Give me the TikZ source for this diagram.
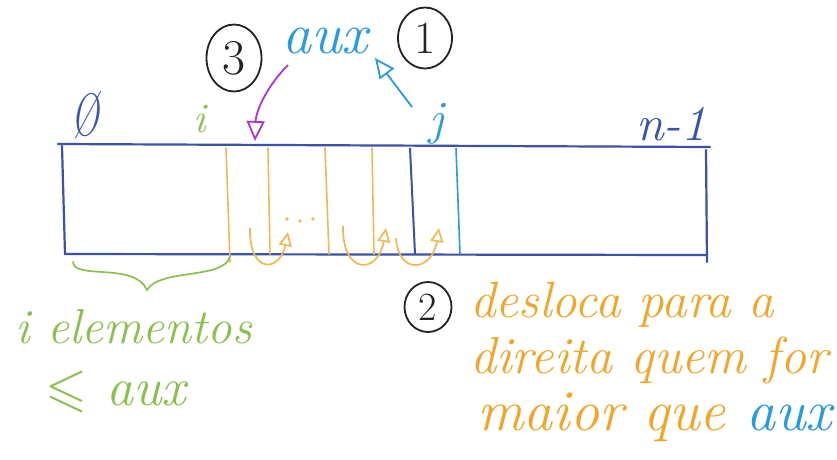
\documentclass[tikz,border=0pt]{standalone}
\usepackage{amssymb}
\usepackage{fontspec}
\usetikzlibrary{arrows.meta,shapes.geometric}
\definecolor{rectblue}{RGB}{58,82,172}
\definecolor{orline}{RGB}{243,184,82}
\definecolor{ortext}{RGB}{243,165,40}
\definecolor{ltblue}{RGB}{38,155,222}
\definecolor{grn}{RGB}{140,192,78}
\definecolor{purp}{RGB}{176,52,212}
\definecolor{ink}{RGB}{35,35,35}
\tikzset{
  hand/.style={inner sep=0pt, font=\itshape\fontsize{#1}{#1}\selectfont},
  circnum/.style={draw=ink, line width=1.8pt, ellipse, inner sep=0pt, text=ink},
  arr/.style={line width=1.8pt, -{Triangle[open,length=20pt,width=18pt,line width=1.8pt]}},
  uarr/.style={orline, line width=1.7pt, -{Triangle[open,length=14pt,width=13pt,line width=1.7pt]}},
  boxline/.style={rectblue, line width=2.2pt, line cap=round},
  cell/.style={orline, line width=1.6pt, line cap=round}
}
\begin{document}
\begin{tikzpicture}[x=1pt,y=-1pt]
\useasboundingbox[fill=white] (0,0) rectangle (837,459);

% array box
\coordinate (TLt) at (58,144);
\coordinate (TL) at (62,146);
\coordinate (TR) at (710,147);
\coordinate (BL) at (65,254);
\coordinate (BR) at (707,255);
\coordinate (RB) at (707,262);
\draw[boxline] (TLt) -- (TR);
\draw[boxline] (TL) -- (BL) -- (BR);
\draw[boxline] (706,150) -- (RB);

% orange cell separators
\coordinate (c1t) at (226,148); \coordinate (c1b) at (230,262);
\coordinate (c2t) at (268,148); \coordinate (c2b) at (270,254);
\coordinate (c3t) at (325,148); \coordinate (c3b) at (329,254);
\coordinate (c4t) at (372,148); \coordinate (c4b) at (374,254);
\draw[cell] (c1t) -- (c1b);
\draw[cell] (c2t) -- (c2b);
\draw[cell] (c3t) -- (c3b);
\draw[cell] (c4t) -- (c4b);
% j cell
\draw[rectblue, line width=2pt] (410,148) -- (415,254);
\draw[ltblue, line width=1.6pt] (456,148) -- (460,254);

% dots
\fill[orline] (287,219) circle (1.8) (300,221) circle (1.8) (313,219) circle (1.8);

% shifting arrows
\coordinate (u1a) at (250,228); \coordinate (u1b) at (288,232);
\coordinate (u2a) at (343,226); \coordinate (u2b) at (386,228);
\coordinate (u3a) at (396,238); \coordinate (u3b) at (439,228);
\draw[uarr] (u1a) .. controls (249,275) and (280,272) .. (u1b);
\draw[uarr] (u2a) .. controls (342,275) and (378,275) .. (u2b);
\draw[uarr] (u3a) .. controls (398,275) and (432,272) .. (u3b);

% index labels
\node[hand=60, text=rectblue, anchor=base] (zero) at (85,135) {\scalebox{0.62}[1]{Ø}};
\node[hand=42, text=grn, anchor=base] (ilab) at (200,132) {i};
\node[hand=48, text=ltblue, anchor=base] (jlab) at (437,134) {j};
\node[hand=50, text=rectblue, anchor=base] (nlab) at (671,140) {n-1};

% aux and steps
\node[hand=58, text=ltblue, anchor=base] (auxtop) at (325,53) {aux};
\node[circnum, minimum width=55pt, minimum height=67pt, font=\fontsize{50}{50}\selectfont] (s3) at (234,58) {3};
\node[circnum, minimum width=54pt, minimum height=61pt, font=\fontsize{46}{46}\selectfont] (s1) at (425,38) {1};
\node[circnum, minimum width=47pt, minimum height=50pt, font=\fontsize{40}{40}\selectfont] (s2) at (428,307) {2};

\coordinate (pend) at (255,141);
\coordinate (pstart) at (288,65);
\draw[arr, purp] (pstart) .. controls (268,85) and (256,110) .. (pend);
\coordinate (bstart) at (412,107);
\coordinate (bend) at (375,58);
\draw[arr, ltblue] (bstart) -- (bend);

% brace
\coordinate (br1) at (73,262);
\coordinate (brtip) at (147,290);
\coordinate (br2) at (230,256);
\draw[grn, line width=1.7pt, line cap=round] (br1) .. controls (74,280) and (135,262) .. (brtip)
   .. controls (160,268) and (225,280) .. (br2);

% green text
\node[hand=49, text=grn, anchor=base west] (gt1) at (15,343) {i elementos};
\node[hand=54, text=grn, anchor=base west] (gt2) at (45,405) {$\leqslant$ aux};

% orange text
\node[hand=51, text=ortext, anchor=base west] (ot1) at (470,317) {desloca para a};
\node[hand=52, text=ortext, anchor=base west] (ot2) at (470,373) {direita quem for};
\node[hand=58, text=ortext, anchor=base west] (ot3) at (477,430) {maior que \textcolor{ltblue}{aux}};
\end{tikzpicture}
\end{document}
